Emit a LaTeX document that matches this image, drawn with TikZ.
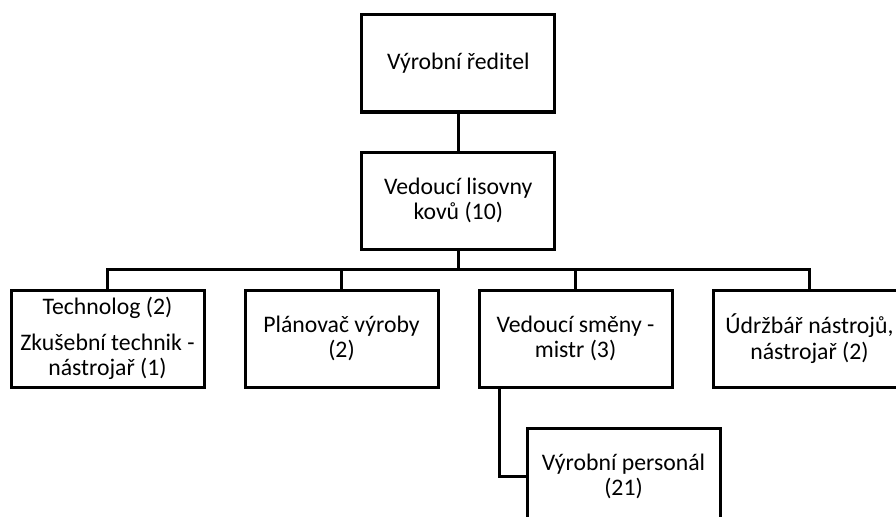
\documentclass[tikz,border=0pt]{standalone}
\usepackage{fontspec}
\setmainfont{Carlito}
\begin{document}
\begin{tikzpicture}[x=0.75pt, y=-0.75pt,
  unit/.style={draw=black, line width=2.25pt, fill=white, minimum width=144.75pt,
    minimum height=72.75pt, inner sep=2pt, align=center,
    font=\fontsize{17.8}{19}\selectfont},
  link/.style={draw=black, line width=2.25pt}]
\useasboundingbox (0,0) rectangle (896,517);
\clip (0,0) rectangle (896,517);

% junction points of the connectors
\coordinate (bus) at (458.3,269);
\coordinate (t3drop) at (499,387);

\node[unit] (dir)  at (458.3,63.5)  {Výrobní ředitel};
\node[unit] (head) at (458.3,200.5) {Vedoucí lisovny\\kovů (10)};
\node[unit] (t1)   at (107.5,338.5) {Technolog (2)\\[8pt]Zkušební technik -\\nástrojař (1)};
\node[unit] (t2)   at (341.5,338.5) {Plánovač výroby\\(2)};
\node[unit] (t3)   at (575.5,338.5) {Vedoucí směny -\\mistr (3)};
\node[unit] (t4)   at (809.5,338.5) {Údržbář nástrojů,\\nástrojař (2)};
\node[unit] (pers) at (623.5,476.5) {Výrobní personál\\(21)};

\draw[link] (dir) -- (head);
\draw[link] (head.south) -- (bus);
\draw[link] (bus) -| (t1.north);
\draw[link] (bus) -| (t2.north);
\draw[link] (bus) -| (t3.north);
\draw[link] (bus) -| (t4.north);
\draw[link] (t3drop) |- (pers.west);
\end{tikzpicture}
\end{document}
